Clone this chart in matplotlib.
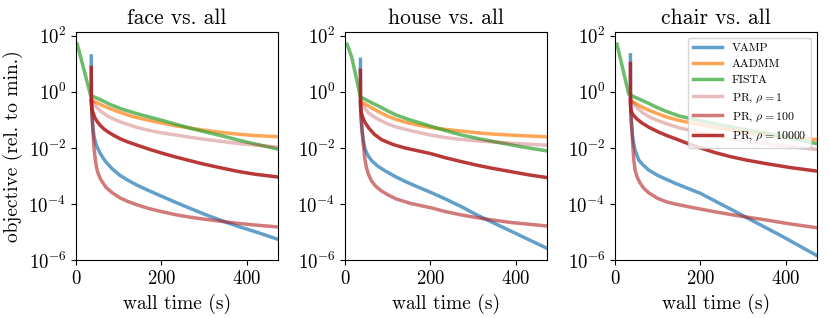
import numpy as np
import matplotlib
matplotlib.use("Agg")
import matplotlib.pyplot as plt

plt.rcParams["font.family"] = "serif"
plt.rcParams["font.serif"] = ["cmr10"]
plt.rcParams["mathtext.fontset"] = "cm"
plt.rcParams["axes.formatter.use_mathtext"] = True

titles = ["face vs. all", "house vs. all", "chair vs. all"]
labels = ["VAMP", "AADMM", "FISTA", r"PR, $\rho=1$", r"PR, $\rho=100$", r"PR, $\rho=10000$"]

# (time in s, log10 objective) per method, per panel
face = {
    "VAMP": ([35.6, 36, 37, 38, 40, 43, 47.5, 55, 63, 71, 85, 103, 120, 143, 170, 200, 230, 263, 300, 342, 380, 420, 475],
             [1.28, -0.3, -0.7, -1.0, -1.36, -1.65, -1.9, -2.15, -2.35, -2.52, -2.75, -2.98, -3.14, -3.33, -3.52, -3.72, -3.92, -4.13, -4.36, -4.6, -4.8, -4.99, -5.27]),
    "AADMM": ([36, 45, 60, 80, 105, 130, 160, 200, 230, 263, 300, 342, 380, 420, 475],
              [-0.29, -0.36, -0.47, -0.6, -0.74, -0.87, -0.98, -1.11, -1.2, -1.28, -1.37, -1.45, -1.51, -1.56, -1.60]),
    "FISTA": ([3, 34, 45, 60, 80, 105, 143, 170, 200, 230, 263, 300, 342, 380, 420, 475],
              [1.70, -0.12, -0.2, -0.3, -0.45, -0.6, -0.78, -0.89, -1.01, -1.14, -1.28, -1.42, -1.57, -1.72, -1.86, -2.05]),
    "PR1": ([36, 42, 50, 60, 72, 88, 105, 125, 143, 170, 200, 230, 263, 300, 342, 380, 420, 475],
            [-0.30, -0.42, -0.58, -0.72, -0.85, -0.97, -1.08, -1.18, -1.27, -1.37, -1.46, -1.53, -1.61, -1.69, -1.77, -1.84, -1.90, -1.97]),
    "PR100": ([36, 37, 38, 40, 42, 45, 48, 52, 57, 63, 71, 85, 103, 120, 143, 170, 200, 230, 263, 300, 342, 380, 420, 475],
              [-0.3, -0.7, -1.0, -1.5, -2.0, -2.4, -2.7, -2.92, -3.1, -3.25, -3.42, -3.6, -3.78, -3.9, -4.03, -4.16, -4.27, -4.37, -4.46, -4.54, -4.62, -4.69, -4.75, -4.82]),
    "PR10000": ([35.6, 35.8, 36.5, 38, 41, 45, 50, 57, 65, 75, 88, 103, 120, 143, 170, 200, 230, 263, 300, 342, 380, 420, 475],
                [0.87, -0.3, -0.5, -0.65, -0.8, -0.95, -1.07, -1.2, -1.32, -1.43, -1.55, -1.67, -1.78, -1.9, -2.04, -2.18, -2.31, -2.44, -2.58, -2.72, -2.84, -2.94, -3.04]),
}

house = {
    "VAMP": ([36, 36.3, 37, 38, 40, 43, 47, 53, 62, 75, 92, 115, 140, 170, 200, 235, 273, 310, 350, 390, 430, 470],
             [1.16, -0.35, -0.7, -1.0, -1.4, -1.75, -2.05, -2.25, -2.45, -2.63, -2.8, -3.0, -3.19, -3.39, -3.58, -3.82, -4.1, -4.4, -4.69, -4.98, -5.27, -5.56]),
    "AADMM": ([37, 45, 60, 80, 100, 119, 150, 200, 235, 273, 310, 350, 410, 470],
              [-0.35, -0.42, -0.55, -0.72, -0.87, -0.98, -1.12, -1.27, -1.34, -1.40, -1.46, -1.51, -1.56, -1.60]),
    "FISTA": ([4.6, 15.5, 36, 45, 60, 80, 100, 119, 150, 200, 235, 273, 310, 350, 410, 470],
              [1.70, 1.25, -0.18, -0.25, -0.37, -0.52, -0.68, -0.82, -0.99, -1.22, -1.38, -1.54, -1.66, -1.78, -1.95, -2.10]),
    "PR1": ([37, 45, 55, 67, 80, 100, 119, 150, 200, 235, 273, 310, 350, 410, 470],
            [-0.41, -0.55, -0.75, -0.88, -1.0, -1.14, -1.25, -1.37, -1.54, -1.63, -1.70, -1.75, -1.79, -1.85, -1.90]),
    "PR100": ([36.3, 37, 38, 40, 43, 46, 50, 55, 62, 72, 85, 100, 120, 154, 200, 235, 273, 310, 350, 390, 430, 470],
              [-0.35, -0.7, -1.0, -1.4, -1.9, -2.35, -2.7, -2.95, -3.18, -3.37, -3.53, -3.67, -3.82, -3.98, -4.13, -4.27, -4.39, -4.49, -4.58, -4.66, -4.72, -4.78]),
    "PR10000": ([36, 36.2, 37.5, 40, 46, 55, 69, 85, 100, 115, 140, 170, 200, 235, 273, 310, 350, 390, 430, 470],
                [0.77, -0.5, -0.7, -0.85, -1.07, -1.28, -1.52, -1.7, -1.8, -1.89, -2.0, -2.1, -2.2, -2.35, -2.49, -2.62, -2.74, -2.85, -2.96, -3.05]),
}

chair = {
    "VAMP": ([36, 36.3, 37, 38, 40, 43, 47, 55.5, 65, 79, 100, 120, 141, 170, 200, 235, 273, 310, 350, 390, 430, 470],
             [1.32, -0.3, -0.7, -1.0, -1.45, -1.8, -2.08, -2.43, -2.6, -2.79, -2.98, -3.12, -3.26, -3.44, -3.62, -3.9, -4.2, -4.5, -4.82, -5.14, -5.48, -5.82]),
    "AADMM": ([37, 45, 60, 80, 100, 119, 150, 200, 235, 273, 310, 350, 410, 470],
              [-0.30, -0.38, -0.52, -0.66, -0.78, -0.89, -1.02, -1.17, -1.27, -1.36, -1.45, -1.52, -1.62, -1.70]),
    "FISTA": ([4.6, 32, 45, 60, 80, 100, 119, 150, 200, 235, 273, 310, 350, 410, 470],
              [1.70, -0.08, -0.18, -0.28, -0.42, -0.57, -0.69, -0.86, -1.03, -1.14, -1.25, -1.36, -1.46, -1.65, -1.84]),
    "PR1": ([37, 45, 55, 67, 80, 100, 119, 150, 200, 235, 273, 310, 350, 410, 470],
            [-0.30, -0.45, -0.62, -0.77, -0.89, -1.02, -1.13, -1.28, -1.46, -1.58, -1.69, -1.77, -1.84, -1.95, -2.05]),
    "PR100": ([36.3, 37, 38, 40, 42, 44, 47, 52, 59, 68, 79, 100, 120, 141, 170, 200, 235, 273, 310, 350, 410, 470],
              [-0.3, -0.7, -1.0, -1.5, -2.0, -2.45, -2.8, -3.05, -3.26, -3.45, -3.6, -3.8, -3.92, -4.0, -4.09, -4.18, -4.28, -4.38, -4.47, -4.56, -4.71, -4.84]),
    "PR10000": ([36, 36.2, 37.5, 40, 50, 62, 79, 100, 120, 141, 170, 200, 235, 273, 310, 350, 410, 470],
                [1.01, -0.5, -0.65, -0.77, -0.95, -1.1, -1.26, -1.42, -1.55, -1.67, -1.84, -2.0, -2.17, -2.32, -2.44, -2.55, -2.7, -2.82]),
}

panels = [face, house, chair]
keys = ["VAMP", "AADMM", "FISTA", "PR1", "PR100", "PR10000"]
colors = ["tab:blue", "tab:orange", "tab:green", "firebrick", "firebrick", "firebrick"]
alphas = [0.7, 0.7, 0.7, 0.3, 0.6, 0.9]

fig = plt.figure(figsize=(8.3, 3.18), dpi=100)
lefts = [0.0916, 0.4157, 0.741]
for i, (data, title) in enumerate(zip(panels, titles)):
    ax = fig.add_axes([lefts[i], 0.182, 0.243, 0.717])
    for k, c, a, lab in zip(keys, colors, alphas, labels):
        t, v = data[k]
        ax.plot(t, 10 ** np.array(v), color=c, alpha=a, lw=2.5, label=lab)
    ax.set_yscale("log")
    ax.set_xlim(0, 472)
    ax.set_ylim(1e-6, 1.35e2)
    ax.set_yticks([1e-6, 1e-4, 1e-2, 1, 1e2])
    ax.yaxis.set_minor_locator(matplotlib.ticker.NullLocator())
    ax.set_xticks([0, 200, 400])
    ax.tick_params(labelsize=13.5)
    ax.set_title(title, fontsize=15.5)
    ax.set_xlabel("wall time (s)", fontsize=14)
    if i == 0:
        ax.set_ylabel("objective (rel. to min.)", fontsize=14)
    if i == 2:
        ax.legend(loc="upper right", fontsize=8.5, handlelength=2.5)

fig.savefig("out.png", dpi=100)
